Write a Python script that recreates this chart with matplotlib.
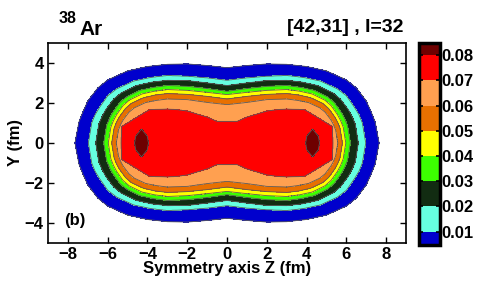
import numpy as np
import matplotlib
matplotlib.use("Agg")
import matplotlib.pyplot as plt

plt.rcParams['font.family'] = ['Liberation Sans', 'DejaVu Sans']
plt.rcParams['font.weight'] = 'bold'
plt.rcParams['axes.unicode_minus'] = True

# ---- data ----
levels = [0.0047, 0.01, 0.02, 0.03, 0.04, 0.05, 0.06, 0.07, 0.08, 0.0847]
band_colors = ['#0000CD', '#66FFE0', '#122C12', '#3CFF00', '#FFFF00',
               '#E87000', '#FFA050', '#FF0000', '#6E0000']
cbar_ticks = [0.01, 0.02, 0.03, 0.04, 0.05, 0.06, 0.07, 0.08]
xticks = [-8, -6, -4, -2, 0, 2, 4, 6, 8]
yticks = [-4, -2, 0, 2, 4]

# density along the symmetry axis (y = 0), z >= 0 (mirror symmetric)
axis_z = [0, 1, 2, 3, 3.95, 4.0, 4.3, 4.6, 4.65, 5.33, 5.57, 5.8, 5.97, 6.2, 6.6, 6.97, 7.65, 8.5]
axis_rho = [0.0745, 0.0755, 0.077, 0.0785, 0.08, 0.0808, 0.084, 0.0808, 0.08, 0.07,
            0.06, 0.05, 0.04, 0.03, 0.02, 0.01, 0.0047, 0.0]

# half-height y of each iso-density contour versus |z| (upper-right quadrant)
z_0047 = [0, 1, 2, 3, 4, 5, 6, 6.5, 7, 7.25, 7.45, 7.65]
h_0047 = [3.76, 3.87, 3.95, 3.93, 3.82, 3.6, 3.15, 2.75, 2.1, 1.55, 1.05, 0]
z_001 = [0, 1, 2, 3, 3.85, 4.7, 5.55, 6.0, 6.4, 6.63, 6.8, 6.97]
h_001 = [3.13, 3.25, 3.33, 3.37, 3.27, 3.09, 2.70, 2.36, 1.79, 1.42, 1.01, 0]
z_002 = [0, 1, 2, 3, 3.77, 4.55, 5.32, 5.7, 6.1, 6.29, 6.45, 6.6]
h_002 = [2.87, 3.0, 3.12, 3.13, 3.04, 2.87, 2.50, 2.19, 1.66, 1.31, 0.94, 0]
z_003 = [0, 1, 2, 3, 3.69, 4.38, 5.06, 5.4, 5.75, 5.92, 6.06, 6.2]
h_003 = [2.58, 2.72, 2.83, 2.87, 2.78, 2.63, 2.30, 2.01, 1.52, 1.21, 0.86, 0]
z_004 = [0, 1, 2, 3, 3.64, 4.28, 4.92, 5.23, 5.55, 5.71, 5.84, 5.97]
h_004 = [2.42, 2.53, 2.63, 2.67, 2.59, 2.45, 2.14, 1.87, 1.42, 1.12, 0.80, 0]
z_005 = [0, 1, 2, 3, 3.6, 4.2, 4.81, 5.1, 5.41, 5.56, 5.68, 5.8]
h_005 = [2.2, 2.33, 2.43, 2.47, 2.40, 2.26, 1.98, 1.73, 1.31, 1.04, 0.74, 0]
z_006 = [0, 1, 2, 3, 3.55, 4.1, 4.66, 4.93, 5.21, 5.35, 5.46, 5.57]
h_006 = [1.92, 2.03, 2.17, 2.2, 2.13, 2.02, 1.76, 1.54, 1.17, 0.92, 0.66, 0]
z_007 = [0, 0.5, 1.0, 2.0, 2.5, 3.0, 3.9, 4.6, 5.3, 5.33]
h_007 = [1.08, 1.08, 1.3, 1.6, 1.67, 1.7, 1.67, 1.25, 0.83, 0]
z_008 = [3.95, 4.0, 4.3, 4.6, 4.65]
h_008 = [0, 0.33, 0.7, 0.33, 0]

contour_tables = [(0.0047, z_0047, h_0047), (0.01, z_001, h_001), (0.02, z_002, h_002),
                  (0.03, z_003, h_003), (0.04, z_004, h_004), (0.05, z_005, h_005),
                  (0.06, z_006, h_006), (0.07, z_007, h_007), (0.08, z_008, h_008)]

# ---- density field rebuilt from the contour read-outs ----
zz = np.linspace(-9, 9, 901)
yy = np.linspace(-5, 5, 501)
ay = np.abs(yy)
Z = np.zeros((len(yy), len(zz)))
for j, z in enumerate(zz):
    za = abs(z)
    c = np.interp(za, axis_z, axis_rho)
    py, pv = [0.0], [c]
    for lev, zt, ht in reversed(contour_tables):
        if c > lev:
            h = float(np.interp(za, zt, ht, right=0.0))
            if h > py[-1]:
                py.append(h)
                pv.append(lev)
    py.append(py[-1] + 0.6)
    pv.append(0.0)
    Z[:, j] = np.interp(ay, py, pv)

# ---- figure ----
fig = plt.figure(figsize=(4.8, 2.86), dpi=100)
ax = fig.add_axes([0.100, 0.150, 0.746, 0.700])
cf = ax.contourf(zz, yy, Z, levels=levels, colors=band_colors)
ax.contour(zz, yy, Z, levels=levels[:-1], colors='#5a5a5a', linewidths=0.6)

ax.set_xlim(-9, 9)
ax.set_ylim(-5, 5)
ax.set_xticks(xticks)
ax.set_yticks(yticks)
ax.tick_params(direction='in', top=True, right=True, length=4, width=1.0,
               labelsize=12, pad=3)
for s in ax.spines.values():
    s.set_linewidth(1.2)
ax.set_xlabel('Symmetry axis Z (fm)', fontsize=12, fontweight='bold', labelpad=-1)
ax.set_ylabel('Y (fm)', fontsize=12, fontweight='bold', labelpad=1)
ax.text(-8.2, -4.1, '(b)', fontsize=12, fontweight='bold', va='baseline', ha='left')

fig.text(0.121, 0.9196, '38', fontsize=11.5, fontweight='bold', va='baseline', ha='left')
fig.text(0.1646, 0.8776, 'Ar', fontsize=15, fontweight='bold', va='baseline', ha='left')
fig.text(0.8396, 0.889, '[42,31] , I=32', fontsize=14, fontweight='bold',
         va='baseline', ha='right')

cax = fig.add_axes([0.873, 0.143, 0.044, 0.706])
cb = fig.colorbar(cf, cax=cax, ticks=cbar_ticks, spacing='proportional')
cb.outline.set_linewidth(2.5)
cax.tick_params(direction='in', left=True, right=True, length=3, width=1.2,
                labelsize=12, pad=1)
cax.set_yticklabels(['%.2f' % t for t in cbar_ticks])
for t in cax.get_yticklabels():
    t.set_fontweight('bold')

fig.savefig('out.png', dpi=100)
